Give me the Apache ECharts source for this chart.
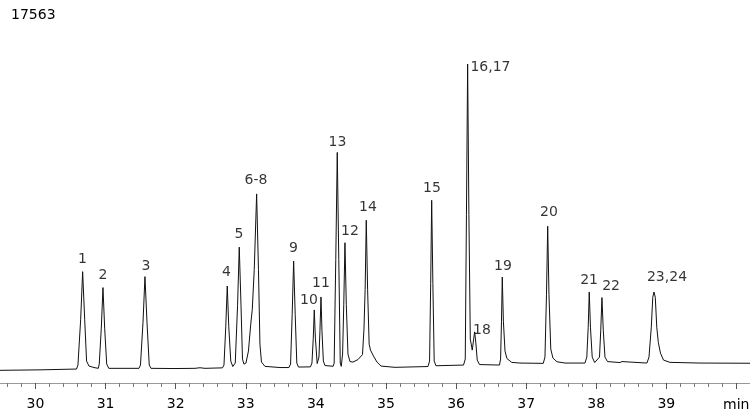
<!DOCTYPE html>
<html><head><meta charset="utf-8">
<script src="https://cdn.jsdelivr.net/npm/echarts@6/dist/echarts.min.js"></script>
<style>html,body{margin:0;padding:0;background:#fff}#c{width:750px;height:411px}</style>
</head><body><div id="c"></div>
<script>
// retention time (min) and detector signal
const times = [29.494,30.064,30.585,30.606,30.645,30.673,30.702,30.729,30.763,30.835,30.896,30.910,30.939,30.963,30.987,31.016,31.046,31.476,31.498,31.534,31.562,31.591,31.623,31.648,31.990,32.275,32.347,32.418,32.668,32.689,32.715,32.736,32.757,32.786,32.815,32.850,32.883,32.907,32.932,32.953,32.974,33.003,33.038,33.071,33.093,33.121,33.155,33.181,33.202,33.224,33.274,33.488,33.616,33.639,33.662,33.683,33.705,33.728,33.752,33.923,33.944,33.963,33.977,33.993,34.019,34.044,34.058,34.073,34.087,34.107,34.130,34.247,34.261,34.284,34.305,34.327,34.348,34.362,34.381,34.398,34.415,34.434,34.458,34.486,34.529,34.601,34.665,34.686,34.703,34.719,34.738,34.760,34.779,34.822,34.872,34.929,35.128,35.599,35.622,35.638,35.652,35.669,35.688,35.713,36.106,36.131,36.148,36.165,36.183,36.203,36.231,36.251,36.265,36.281,36.302,36.334,36.619,36.635,36.648,36.659,36.675,36.698,36.726,36.793,36.912,37.244,37.268,37.290,37.307,37.325,37.351,37.382,37.439,37.554,37.839,37.865,37.885,37.900,37.917,37.942,37.977,38.046,38.064,38.081,38.100,38.124,38.160,38.338,38.367,38.395,38.723,38.752,38.785,38.806,38.823,38.842,38.863,38.885,38.916,38.959,39.051,39.479,40.193];
const signal = [697,724,768,988,3512,6130,3512,1207,933,851,807,1043,3018,5252,3018,1043,807,807,988,3348,5856,3348,988,807,796,807,840,807,834,988,3128,5340,3128,1207,906,1098,4281,7480,4281,1317,1043,1098,1756,3238,4061,6256,10411,6256,2140,1152,916,851,851,1043,3787,6712,3787,1098,878,889,1098,2470,4023,2470,1070,1427,2854,4736,2854,1207,960,922,1098,6805,12694,6805,1098,916,1592,4336,7722,4336,1592,1180,1152,1290,1564,2964,5159,8962,5159,2140,1811,1482,1152,933,862,906,1207,5488,10059,5488,1207,949,988,1317,9275,17563,9275,2415,1811,2415,2815,2250,1262,1015,988,1317,3403,5834,3403,1756,1345,1136,1098,1081,1427,4884,8633,4884,1866,1372,1169,1098,1098,1427,3073,5011,3073,1427,1125,1427,2909,4703,2909,1427,1180,1125,1180,1109,1098,1427,3073,4720,5011,4720,3073,2234,1646,1262,1136,1098,1087];

// peak labels and their anchor positions (time, signal)
const peakNames = ["1","2","3","4","5","6-8","9","10","11","13","12","14","15","16,17","18","19","20","21","22","23,24"];
const peakTimes = [30.670,30.963,31.577,32.725,32.903,33.146,33.680,33.902,34.073,34.308,34.486,34.743,35.656,36.491,36.369,36.669,37.325,37.897,38.211,39.009];
const peakHeights = [6805,5927,6421,6092,8177,11141,7409,4555,5488,13226,8342,9659,10702,17370,2909,6421,9384,5653,5307,5801];

// axis ticks
const xMin = 29.494, xMax = 40.193, yMax = 17563;
const majorTicks = [30,31,32,33,34,35,36,37,38,39,40];
const tickLabels = [30,31,32,33,34,35,36,37,38,39];
const minorTicks = [29.6,29.8,30.2,30.4,30.6,30.8,31.2,31.4,31.6,31.8,32.2,32.4,32.6,32.8,33.2,33.4,33.6,33.8,34.2,34.4,34.6,34.8,35.2,35.4,35.6,35.8,36.2,36.4,36.6,36.8,37.2,37.4,37.6,37.8,38.2,38.4,38.6,38.8,39.2,39.4,39.6,39.8];

const FONT = 'DejaVu Sans';
const chart = echarts.init(document.getElementById('c'), null, {renderer:'canvas'});
chart.setOption({
  animation: false,
  backgroundColor: '#fff',
  title: {text: String(yMax), left: 6, top: 3, textStyle: {fontFamily: FONT, fontSize: 14, fontWeight: 'normal', color: '#000'}},
  graphic: [{type: 'text', left: 723, top: 398, style: {text: 'min', font: '14px "DejaVu Sans"', fill: '#000'}}],
  grid: {left: 0, right: 0, top: 64, bottom: 27},
  xAxis: [{
    type: 'value', min: xMin, max: xMax,
    axisLine: {show: true, lineStyle: {color: '#999', width: 1}},
    axisTick: {show: true, customValues: majorTicks, length: 6, lineStyle: {color: '#555'}},
    axisLabel: {customValues: tickLabels, margin: 14, fontFamily: FONT, fontSize: 14, color: '#000'},
    splitLine: {show: false}
  }, {
    type: 'value', min: xMin, max: xMax, position: 'bottom', offset: 0,
    axisLine: {show: false},
    axisTick: {show: true, customValues: minorTicks, length: 4, lineStyle: {color: '#777'}},
    axisLabel: {show: false},
    splitLine: {show: false}
  }],
  yAxis: {type: 'value', min: 0, max: yMax, show: false},
  series: [{
    type: 'line', xAxisIndex: 0,
    data: times.map((t, i) => [t, signal[i]]),
    showSymbol: false, smooth: false,
    lineStyle: {color: '#111', width: 1}
  }, {
    type: 'scatter', xAxisIndex: 0,
    data: peakTimes.map((t, i) => ({value: [t, peakHeights[i]], name: peakNames[i]})),
    symbolSize: 1, itemStyle: {color: 'rgba(0,0,0,0)'},
    label: {show: true, position: 'inside', formatter: p => p.name, fontFamily: FONT, fontSize: 14, color: '#000', textBorderWidth: 0}
  }]
});
</script></body></html>
